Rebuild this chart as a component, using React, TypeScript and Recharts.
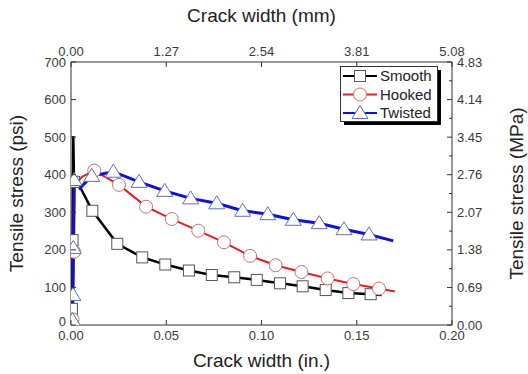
import React from "react";
import { ComposedChart, Line, XAxis, YAxis, Label } from "recharts";

// Crack width (in.) / tensile stress (psi); markers flags: 1 = marker drawn
const smoothCrack = [0, 0.0005, 0.0008, 0.0012, 0.0016, 0.0047, 0.0112, 0.0243, 0.0374, 0.0495, 0.0619, 0.0739, 0.0857, 0.0975, 0.1097, 0.1216, 0.1337, 0.1456, 0.1573, 0.163];
const smoothStress = [0, 43, 226, 503, 381, 368, 304, 216, 180, 161, 145, 133, 127, 120, 111, 103, 93, 85, 82, 80];
const smoothMark = [0, 1, 1, 0, 1, 0, 1, 1, 1, 1, 1, 1, 1, 1, 1, 1, 1, 1, 1, 0];

const hookedCrack = [0, 0.0008, 0.0016, 0.002, 0.006, 0.0122, 0.0252, 0.0394, 0.0529, 0.0668, 0.0803, 0.094, 0.1074, 0.121, 0.1347, 0.1482, 0.1617, 0.17];
const hookedStress = [0, 15, 195, 375, 395, 411, 373, 315, 282, 251, 220, 184, 159, 141, 124, 109, 97, 89];
const hookedMark = [0, 1, 1, 0, 0, 1, 1, 1, 1, 1, 1, 1, 1, 1, 1, 1, 1, 0];

const twistedCrack = [0, 0.0008, 0.001, 0.0012, 0.0016, 0.0047, 0.0109, 0.0222, 0.0357, 0.0492, 0.0628, 0.0765, 0.0901, 0.1033, 0.1167, 0.1303, 0.1433, 0.1564, 0.1692];
const twistedStress = [0, 13, 80, 205, 386, 364, 397, 408, 381, 357, 337, 324, 304, 295, 280, 271, 255, 241, 224];
const twistedMark = [0, 1, 1, 1, 1, 0, 1, 1, 1, 1, 1, 1, 1, 1, 1, 1, 1, 1, 0];

const inchTicks = [0, 0.05, 0.1, 0.15, 0.2];
const mmLabels = ["0.00", "1.27", "2.54", "3.81", "5.08"];
const psiTicks = [0, 100, 200, 300, 400, 500, 600, 700];
const mpaTicks = [0, 50, 100, 150, 200, 250, 300, 350, 400, 450, 500, 550, 600, 650, 700];
const mpaLabels = ["0.00", "0.69", "1.38", "2.07", "2.76", "3.45", "4.14", "4.83"];

const build = (xs: number[], ys: number[], ms: number[]) =>
  xs.map((x, i) => ({ x, y: ys[i], m: ms[i] }));

const smoothData = build(smoothCrack, smoothStress, smoothMark);
const hookedData = build(hookedCrack, hookedStress, hookedMark);
const twistedData = build(twistedCrack, twistedStress, twistedMark);

const FONT = "'Liberation Sans', Arial, sans-serif";
const AX = "#333";
const TICKFILL = "#3a3a3a";

const Square = ({ cx, cy }: any) => (
  <rect x={cx - 5.5} y={cy - 5.5} width={11} height={11} fill="#fff" stroke="#555" strokeWidth={1} />
);
const Circ = ({ cx, cy }: any) => (
  <circle cx={cx} cy={cy} r={6.5} fill="#fff" stroke="#c87070" strokeWidth={1} />
);
const Tri = ({ cx, cy }: any) => (
  <polygon
    points={`${cx},${cy - 7.5} ${cx - 8},${cy + 5.5} ${cx + 8},${cy + 5.5}`}
    fill="#fff"
    stroke="#6070b0"
    strokeWidth={1}
  />
);

const makeDot = (Comp: any) => (props: any) => {
  const { cx, cy, payload, index } = props;
  if (!payload || !payload.m) return <g key={`d${index}`} />;
  return (
    <g key={`d${index}`}>
      <Comp cx={cx} cy={cy} />
    </g>
  );
};

const TM = 5;

const BottomTick = ({ x, y, payload }: any) => (
  <g>
    <line x1={x} y1={y - TM} x2={x} y2={y - TM - 5} stroke={AX} />
    <text x={x} y={y} dy="0.75em" textAnchor="middle" fontSize={13} fill={TICKFILL} fontFamily={FONT}>
      {payload.value.toFixed(2)}
    </text>
  </g>
);

const TopTick = ({ x, y, index }: any) => (
  <g>
    <line x1={x} y1={y + TM} x2={x} y2={y + TM + 5} stroke={AX} />
    <text x={x} y={y} dy="-0.1em" textAnchor="middle" fontSize={13} fill={TICKFILL} fontFamily={FONT}>
      {mmLabels[index]}
    </text>
  </g>
);

const LeftTick = ({ x, y, payload }: any) => (
  <g>
    <line x1={x + TM} y1={y} x2={x + TM + 5} y2={y} stroke={AX} />
    <text x={x} y={y} dy={payload.value === 0 ? "0.1em" : "0.35em"} textAnchor="end" fontSize={13} fill={TICKFILL} fontFamily={FONT}>
      {payload.value}
    </text>
  </g>
);

const RightTick = ({ x, y, payload }: any) => {
  const major = payload.value % 100 === 0;
  return (
    <g>
      <line x1={x - TM} y1={y} x2={x - TM - (major ? 5 : 3)} y2={y} stroke={AX} />
      {major && (
        <text x={x} y={y} dy="0.35em" textAnchor="start" fontSize={13} fill={TICKFILL} fontFamily={FONT}>
          {mpaLabels[payload.value / 100]}
        </text>
      )}
    </g>
  );
};

const legendItems = [
  { name: "Smooth", color: "#000", Comp: Square },
  { name: "Hooked", color: "#e02020", Comp: Circ },
  { name: "Twisted", color: "#1010d0", Comp: Tri },
];

const LegendBox = () => (
  <svg width={104} height={62} style={{ display: "block" }}>
    <rect x={4} y={4} width={97} height={55} fill="#000" />
    <rect x={0.5} y={0.5} width={97} height={55} fill="#fff" stroke="#333" strokeWidth={1} />
    {legendItems.map((it, i) => {
      const cy = 10 + i * 18.5;
      return (
        <g key={it.name}>
          <line x1={3} y1={cy} x2={37} y2={cy} stroke={it.color} strokeWidth={2} />
          <it.Comp cx={20} cy={cy} />
          <text x={40} y={cy} dy="0.36em" fontSize={15} fill="#222" fontFamily={FONT}>
            {it.name}
          </text>
        </g>
      );
    })}
  </svg>
);

export default function App() {
  return (
    <div style={{ position: "absolute", left: 0, top: 0, width: 528, height: 374, background: "#fff" }}>
      <ComposedChart width={528} height={374} margin={{ top: 0, right: 0, bottom: 0, left: 0 }}>
        <XAxis
          xAxisId="bottom"
          type="number"
          dataKey="x"
          domain={[0, 0.2]}
          ticks={inchTicks}
          height={49}
          tickSize={0}
          tickMargin={TM}
          tickLine={false}
          tick={<BottomTick />}
          axisLine={{ stroke: AX }}
          interval={0}
          allowDataOverflow
        >
          <Label value="Crack width (in.)" position="insideBottom" offset={7} fontSize={19} fill="#222" fontFamily={FONT} />
        </XAxis>
        <XAxis
          xAxisId="top"
          orientation="top"
          type="number"
          dataKey="x"
          domain={[0, 0.2]}
          ticks={inchTicks}
          height={62}
          tickSize={0}
          tickMargin={TM}
          tickLine={false}
          tick={<TopTick />}
          axisLine={{ stroke: AX }}
          interval={0}
          allowDataOverflow
        >
          <Label value="Crack width (mm)" position="insideTop" offset={9} fontSize={19} fill="#222" fontFamily={FONT} />
        </XAxis>
        <YAxis
          yAxisId="left"
          type="number"
          domain={[0, 700]}
          ticks={psiTicks}
          width={71}
          tickSize={0}
          tickMargin={TM}
          tickLine={false}
          tick={<LeftTick />}
          axisLine={{ stroke: AX }}
          interval={0}
          allowDataOverflow
        >
          <Label value="Tensile stress (psi)" angle={-90} position="insideLeft" offset={16} fontSize={19} fill="#222" fontFamily={FONT} style={{ textAnchor: "middle" }} />
        </YAxis>
        <YAxis
          yAxisId="right"
          orientation="right"
          type="number"
          domain={[0, 700]}
          ticks={mpaTicks}
          width={76}
          tickSize={0}
          tickMargin={TM}
          tickLine={false}
          tick={<RightTick />}
          axisLine={{ stroke: AX }}
          interval={0}
          allowDataOverflow
        >
          <Label value="Tensile stress (MPa)" angle={-90} position="insideRight" offset={12} fontSize={19} fill="#222" fontFamily={FONT} style={{ textAnchor: "middle" }} />
        </YAxis>
        <Line
          xAxisId="top"
          yAxisId="right"
          data={smoothData}
          dataKey="y"
          stroke="none"
          dot={false}
          activeDot={false}
          isAnimationActive={false}
          legendType="none"
        />
        <Line
          xAxisId="bottom"
          yAxisId="left"
          data={smoothData}
          dataKey="y"
          name="Smooth"
          stroke="#000"
          strokeWidth={2.5}
          dot={makeDot(Square)}
          activeDot={false}
          isAnimationActive={false}
        />
        <Line
          xAxisId="bottom"
          yAxisId="left"
          data={hookedData}
          dataKey="y"
          name="Hooked"
          stroke="#e02020"
          strokeWidth={2}
          dot={makeDot(Circ)}
          activeDot={false}
          isAnimationActive={false}
        />
        <Line
          xAxisId="bottom"
          yAxisId="left"
          data={twistedData}
          dataKey="y"
          name="Twisted"
          stroke="#1010d0"
          strokeWidth={3}
          dot={makeDot(Tri)}
          activeDot={false}
          isAnimationActive={false}
        />
      </ComposedChart>
      <div style={{ position: "absolute", left: 340, top: 66 }}>
        <LegendBox />
      </div>
    </div>
  );
}
